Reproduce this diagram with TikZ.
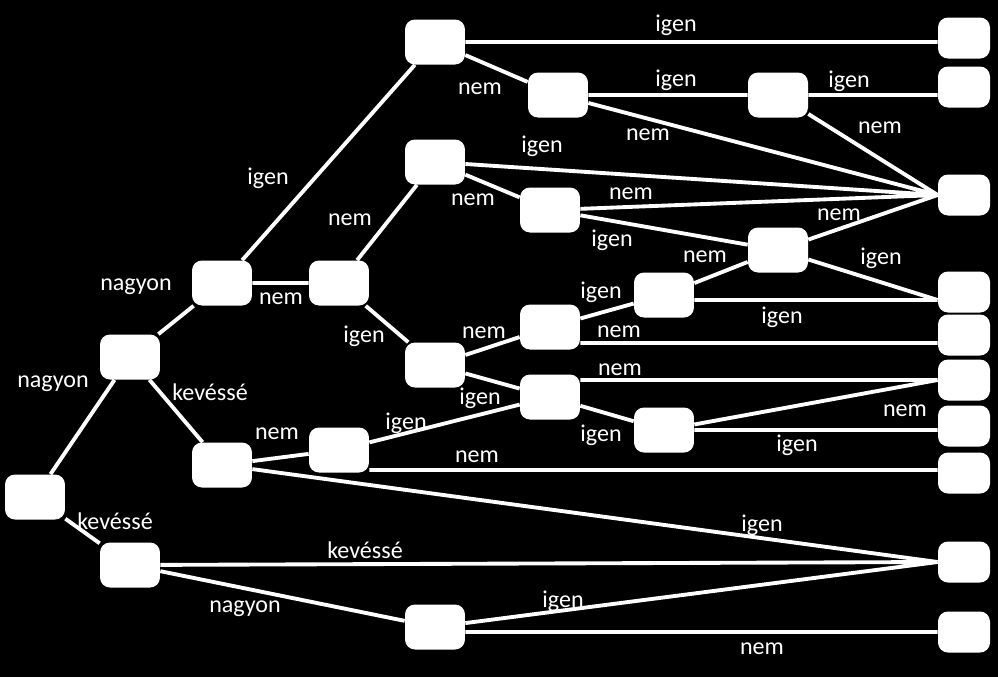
\documentclass[tikz,border=0pt]{standalone}
\usepackage{fontspec}
\setmainfont{Carlito}
\usepackage{tikz}
\usetikzlibrary{positioning}

\begin{document}
\begin{tikzpicture}[x=0.02cm, y=-0.02cm,
    box/.style={rectangle, rounded corners=0.2cm, fill=white, draw=none, minimum width=1.2cm, minimum height=0.9cm, inner sep=0pt},
    leaf/.style={box, minimum width=1.04cm, minimum height=0.82cm},
    lbl/.style={text=white, font=\fontsize{13.7}{16}\selectfont, inner sep=0pt},
    ln/.style={draw=white, line width=2.2pt}]
    \fill[black] (0,0) rectangle (998,677);
    \useasboundingbox (0,0) rectangle (998,677);

    \node[box] (r) at (35,497) {};
    \node[box] (a) at (130,357) {};
    \node[box] (b) at (130,565) {};
    \node[box] (c) at (222,283) {};
    \node[box] (d) at (222,465) {};
    \node[box] (f) at (339,283) {};
    \node[box] (m) at (339,450) {};
    \node[box] (e) at (435,42) {};
    \node[box] (g) at (435,162) {};
    \node[box] (h) at (435,365) {};
    \node[box] (n) at (435,627) {};
    \node[box] (i) at (558,95) {};
    \node[box] (j) at (550,210) {};
    \node[box] (k) at (550,327) {};
    \node[box] (l) at (550,397) {};
    \node[box] (q) at (664,295) {};
    \node[box] (s) at (664,430) {};
    \node[box] (o) at (778,95) {};
    \node[box] (p) at (778,250) {};
    \foreach \y [count=\i] in {38,87,195,292,335,380,426,473,562,632}
        \node[leaf] (L\i) at (964,\y) {};

    \coordinate (L4in) at ([yshift=-0.16cm]L4.west);
    \coordinate (k5) at ([yshift=-0.32cm]k.east);
    \coordinate (m8) at ([yshift=-0.4cm]m.east);

    \draw[ln] (r) -- (a) (r) -- (b) (a) -- (c) (a) -- (d);
    \draw[ln] (c) -- (e) (c) -- (f) (f) -- (g) (f) -- (h) (d) -- (m) (b) -- (n);
    \draw[ln] (e) -- (e -| L1.west) (e) -- (i) (i) -- (o) (o) -- (o -| L2.west);
    \draw[ln] (i) -- (L3.west) (o) -- (L3.west) (g) -- (L3.west) (j) -- (L3.west) (p) -- (L3.west);
    \draw[ln] (g) -- (j) (j) -- (p) (q) -- (p) (p) -- (L4in) (q.east |- L4in) -- (L4in);
    \draw[ln] (h) -- (k) (h) -- (l) (k) -- (q) (k5) -- (k5 -| L5.west);
    \draw[ln] (L6.west -| l.east) -- (L6.west) (l) -- (s) (s) -- (L6.west) (s) -- (s -| L7.west);
    \draw[ln] (m) -- (l) (m8) -- (m8 -| L8.west);
    \draw[ln] (d) -- (L9.west) (b) -- (L9.west) (n) -- (L9.west) (n.east |- L10.west) -- (L10.west);

    \foreach \x/\y/\t [count=\i] in {53/384/nagyon, 115/521/kevéssé, 136/287/nagyon, 210/392/kevéssé,
        268/178/igen, 281/299/nem, 277/434/nem, 676/25/igen, 480/89/nem, 676/80/igen, 648/135/nem,
        849/81/igen, 880/128/nem, 542/146/igen, 473/200/nem, 350/220/nem, 631/194/nem, 612/240/igen,
        839/215/nem, 881/258/igen, 705/257/nem, 782/317/igen, 364/336/igen, 484/333/nem, 480/398/igen,
        601/292/igen, 619/332/nem, 620/370/nem, 406/423/igen, 601/435/igen, 477/457/nem, 905/411/nem,
        797/445/igen, 365/550/kevéssé, 245/609/nagyon, 563/601/igen, 762/525/igen, 762/649/nem}
        \node[lbl] (t\i) at (\x,\y) {\t};
\end{tikzpicture}
\end{document}
